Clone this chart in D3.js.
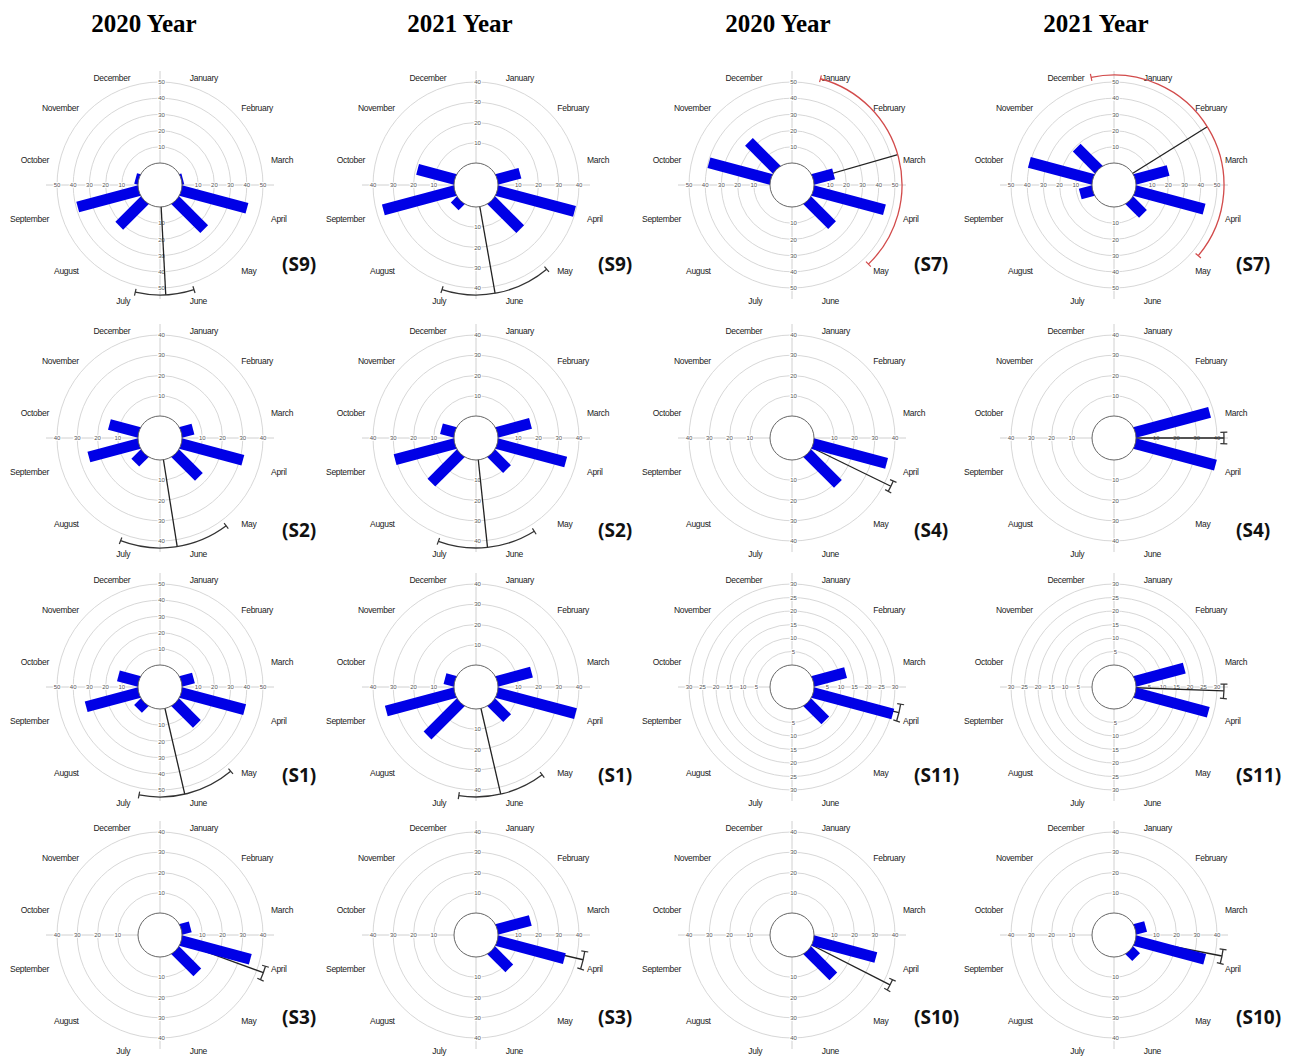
<!DOCTYPE html>
<html>
<head>
<meta charset="utf-8">
<script src="https://cdn.jsdelivr.net/npm/d3@7"></script>
<style>
  body { margin: 0; background: #fff; }
</style>
</head>
<body>
<script>
var w = 1291;
var h = 1064;
var svg = d3.select("body")
            .append("svg")
            .attr("width", w)
            .attr("height", h);

var months = ["January", "February", "March", "April", "May", "June",
              "July", "August", "September", "October", "November", "December"];
var years = ["2020 Year", "2021 Year", "2020 Year", "2021 Year"];
var siteLabels = ["(S9)", "(S9)", "(S7)", "(S7)",
                  "(S2)", "(S2)", "(S4)", "(S4)",
                  "(S1)", "(S1)", "(S11)", "(S11)",
                  "(S3)", "(S3)", "(S10)", "(S10)"];
var axisMax  = [50, 40, 50, 50, 40, 40, 40, 40, 50, 40, 30, 30, 40, 40, 40, 40];
var tickStep = [10, 10, 10, 10, 10, 10, 10, 10, 10, 10, 5, 5, 10, 10, 10, 10];

// monthly values, January .. December
var s9_2020  = [0, 0, 1, 42, 25, 0, 0, 22, 39, 2, 0, 0];
var s9_2021  = [0, 0, 11.6, 39.5, 20, 0, 0, 4, 36.5, 19, 0, 0];
var s7_2020  = [0, 0, 13, 45.5, 21.4, 0, 0, 0, 0, 39.5, 24, 0];
var s7_2021  = [0, 0, 21, 44, 11.7, 0, 0, 0, 8, 40.5, 19, 0];
var s2_2020  = [0, 0, 6, 31.5, 16.3, 0, 0, 6.4, 25.5, 15, 0, 0];
var s2_2021  = [0, 0, 17, 35, 10.8, 0, 0, 20.3, 30.5, 6.8, 0, 0];
var s4_2020  = [0, 0, 0, 37.5, 21.2, 0, 0, 0, 0, 0, 0, 0];
var s4_2021  = [0, 0, 38, 41, 0, 0, 0, 0, 0, 0, 0, 0];
var s1_2020  = [0, 0, 7.8, 40.5, 18.6, 0, 0, 5.6, 33.6, 13, 0, 0];
var s1_2021  = [0, 0, 17.5, 40, 10.9, 0, 0, 23, 35, 5, 0, 0];
var s11_2020 = [0, 0, 12.4, 30.5, 9.3, 0, 0, 0, 0, 0, 0, 0];
var s11_2021 = [0, 0, 18.8, 28, 0, 0, 0, 0, 0, 0, 0, 0];
var s3_2020  = [0, 0, 4.6, 35.3, 15.2, 0, 0, 0, 0, 0, 0, 0];
var s3_2021  = [0, 0, 16.9, 34.3, 12.4, 0, 0, 0, 0, 0, 0, 0];
var s10_2020 = [0, 0, 0, 32, 18, 0, 0, 0, 0, 0, 0, 0];
var s10_2021 = [0, 0, 5.3, 35.5, 4.6, 0, 0, 0, 0, 0, 0, 0];
var counts = [s9_2020, s9_2021, s7_2020, s7_2021,
              s2_2020, s2_2021, s4_2020, s4_2021,
              s1_2020, s1_2021, s11_2020, s11_2021,
              s3_2020, s3_2021, s10_2020, s10_2021];

// mean vector direction and its 95% confidence interval (degrees)
var meanDir = [177, 170, 74, 58, 171, 174, 116, 90, 167, 167, 103.5, 92, 110, 103, 117, 101];
var ciLow   = [162, 140, 15, -12, 143, 148, 113, 87, 140, 143, 99, 88.5, 106.5, 98.6, 114, 97.5];
var ciHigh  = [193, 198, 136, 130, 201, 200, 119, 93, 191, 189, 108, 96, 114, 108, 120, 105];
var ciRed   = [false, false, true, true, false, false, false, false,
               false, false, false, false, false, false, false, false];

var colX = [160, 476, 792, 1114];
var rowY = [185, 438, 687, 935];
var labelDy = [79, 92, 88, 82];
var titleX = [144, 460, 778, 1096];
var innerR = 22;
var outerR = 103;

var angle = d3.scaleBand().domain(months).range([0, 360]);

function rad(deg) { return deg * Math.PI / 180; }

// TITLES =====================================
svg.selectAll("text.title")
    .data(years)
    .enter().append("text")
        .attr("class", "title")
        .attr("x", function(d, i) { return titleX[i]; })
        .attr("y", 32)
        .attr("text-anchor", "middle")
        .attr("font-family", "Liberation Serif, serif")
        .attr("font-weight", "bold")
        .attr("font-size", "25px")
        .text(function(d) { return d; });

// PANELS =====================================
counts.forEach(function(vals, i) { drawPanel(i); });

function drawPanel(i) {
    var row = Math.floor(i / 4);
    var cx = colX[i % 4];
    var cy = rowY[row];
    var g = svg.append("g").attr("transform", "translate(" + cx + "," + cy + ")");
    var r = d3.scaleLinear().domain([0, axisMax[i]]).range([innerR, outerR]);
    var ticks = d3.range(tickStep[i], axisMax[i] + 0.01, tickStep[i]);
    var axisR = outerR + 11;
    var arcR = outerR + 7;

    // rings
    g.selectAll("circle.ring")
        .data(ticks)
        .enter().append("circle")
            .attr("r", function(d) { return r(d); })
            .attr("fill", "none")
            .attr("stroke", "#d2d2d2")
            .attr("stroke-width", 0.9);

    // cross axes
    g.append("line").attr("x1", -axisR).attr("x2", axisR).attr("y1", 0).attr("y2", 0)
        .attr("stroke", "#c4c4c4").attr("stroke-width", 0.8);
    g.append("line").attr("y1", -axisR).attr("y2", axisR).attr("x1", 0).attr("x2", 0)
        .attr("stroke", "#c4c4c4").attr("stroke-width", 0.8);

    // tick labels on the four arms
    [0, 90, 180, 270].forEach(function(a) {
        g.selectAll("text.t" + a)
            .data(ticks)
            .enter().append("text")
                .attr("x", function(d) { return Math.sin(rad(a)) * r(d) + (a % 180 === 0 ? 1.5 : 0); })
                .attr("y", function(d) { return -Math.cos(rad(a)) * r(d); })
                .attr("dy", "0.35em")
                .attr("text-anchor", "middle")
                .attr("font-family", "Liberation Sans, Arial, sans-serif")
                .attr("font-size", "6px")
                .attr("fill", "#555")
                .attr("stroke", "#fff")
                .attr("stroke-width", 2)
                .attr("paint-order", "stroke")
                .text(function(d) { return d; });
    });

    // month labels
    g.selectAll("text.month")
        .data(months)
        .enter().append("text")
            .attr("x", function(d) {
                return Math.sin(rad(angle(d) + angle.bandwidth() / 2)) * (outerR + 12);
            })
            .attr("y", function(d) {
                return -Math.cos(rad(angle(d) + angle.bandwidth() / 2)) * (outerR + 12) + 4.5;
            })
            .attr("dy", "0.35em")
            .attr("text-anchor", function(d) {
                return angle(d) < 180 ? "start" : "end";
            })
            .attr("font-family", "Liberation Sans, Arial, sans-serif")
            .attr("font-size", "8.5px")
            .attr("letter-spacing", "-0.3px")
            .attr("fill", "#222")
            .text(function(d) { return d; });

    // mean vector
    g.append("line")
        .attr("x1", 0).attr("y1", 0).attr("x2", 0).attr("y2", -arcR)
        .attr("transform", "rotate(" + meanDir[i] + ")")
        .attr("stroke", "#222")
        .attr("stroke-width", 1.3);

    // bars
    g.selectAll("rect.bar")
        .data(counts[i].map(function(v, k) { return {m: months[k], v: v}; })
                       .filter(function(d) { return d.v > 0; }))
        .enter().append("rect")
            .attr("x", -5.5)
            .attr("width", 11)
            .attr("y", function(d) { return -r(d.v); })
            .attr("height", function(d) { return r(d.v); })
            .attr("transform", function(d) {
                return "rotate(" + (angle(d.m) + angle.bandwidth() / 2) + ")";
            })
            .attr("fill", "#0000e6");

    // hollow centre
    g.append("circle")
        .attr("r", innerR)
        .attr("fill", "#fff")
        .attr("stroke", "#555")
        .attr("stroke-width", 0.9);

    // confidence interval arc with end caps
    var ciColor = ciRed[i] ? "#d24b4b" : "#333";
    var arc = d3.arc()
        .innerRadius(arcR).outerRadius(arcR)
        .startAngle(rad(ciLow[i])).endAngle(rad(ciHigh[i]));
    g.append("path")
        .attr("d", arc())
        .attr("fill", "none")
        .attr("stroke", ciColor)
        .attr("stroke-width", 1.3);
    g.selectAll("line.cap")
        .data([ciLow[i], ciHigh[i]])
        .enter().append("line")
            .attr("x1", 0).attr("x2", 0)
            .attr("y1", -arcR - 3.5).attr("y2", -arcR + 3.5)
            .attr("transform", function(d) { return "rotate(" + d + ")"; })
            .attr("stroke", ciColor)
            .attr("stroke-width", 1.2);

    // site label
    g.append("text")
        .attr("x", 122)
        .attr("y", labelDy[row])
        .attr("dy", "0.35em")
        .attr("font-family", "Open Sans, sans-serif")
        .attr("font-weight", "bold")
        .attr("font-size", "19px")
        .attr("fill", "#111")
        .text(siteLabels[i]);
}
</script>
</body>
</html>
